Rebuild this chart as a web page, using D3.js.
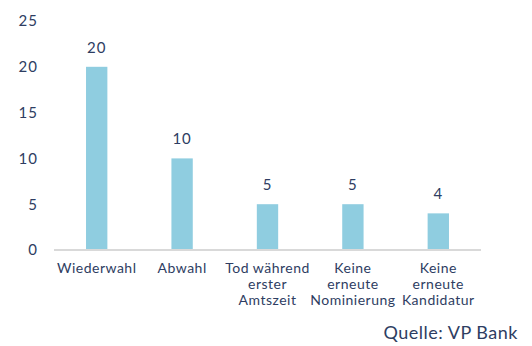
<!DOCTYPE html>
<html>
<head>
<meta charset="utf-8">
<script src="https://cdn.jsdelivr.net/npm/d3@7"></script>
<style>
  html, body { margin: 0; padding: 0; background: #fff; }
  svg text { font-family: Lato, "Open Sans", sans-serif; fill: #2e3d62; font-weight: 400; }
</style>
</head>
<body>
<svg id="chart" width="532" height="346"></svg>
<script>
// Categories (multi-line labels) and counts
const categories = [
  ["Wiederwahl"],
  ["Abwahl"],
  ["Tod während", "erster", "Amtszeit"],
  ["Keine", "erneute", "Nominierung"],
  ["Keine", "erneute", "Kandidatur"]
];
const values = [20, 10, 5, 5, 4];
const yTicks = [0, 5, 10, 15, 20, 25];
const source = "Quelle: VP Bank";

const svg = d3.select("#chart");
const margin = { left: 54, right: 51, top: 21, bottom: 96 };
const W = 532, H = 346;

const x = d3.scaleBand()
  .domain(d3.range(categories.length))
  .range([margin.left, W - margin.right])
  .paddingInner(0.75)
  .paddingOuter(0.375);

const y = d3.scaleLinear()
  .domain([0, 25])
  .range([H - margin.bottom, margin.top]);

// Y axis labels only (no line, no ticks)
const yAxis = svg.append("g")
  .attr("transform", `translate(${margin.left},0)`)
  .call(d3.axisLeft(y).tickValues(yTicks).tickSize(0).tickPadding(16));
yAxis.select(".domain").remove();
yAxis.selectAll("text")
  .style("font-size", "15px")
  .style("letter-spacing", "1px")
  .attr("fill", "#2e3d62");

// Bars
svg.append("g").selectAll("rect")
  .data(values)
  .join("rect")
  .attr("x", (d, i) => x(i))
  .attr("y", d => y(d))
  .attr("width", x.bandwidth())
  .attr("height", d => y(0) - y(d))
  .attr("fill", "#8fcde0");

// Baseline
svg.append("line")
  .attr("x1", margin.left).attr("x2", W - margin.right)
  .attr("y1", y(0)).attr("y2", y(0))
  .attr("stroke", "#d9d9d9").attr("stroke-width", 2);

// Value labels
svg.append("g").selectAll("text")
  .data(values)
  .join("text")
  .attr("x", (d, i) => x(i) + x.bandwidth() / 2)
  .attr("y", d => y(d) - 14)
  .attr("text-anchor", "middle")
  .style("font-size", "15px")
  .style("letter-spacing", "1px")
  .text(d => d);

// Category labels
const catG = svg.append("g").selectAll("text")
  .data(categories)
  .join("text")
  .attr("text-anchor", "middle")
  .style("font-size", "14px")
  .style("letter-spacing", "0.5px")
  .attr("transform", (d, i) => `translate(${x(i) + x.bandwidth() / 2},${y(0) + 23})`);
catG.selectAll("tspan")
  .data(d => d)
  .join("tspan")
  .attr("x", 0)
  .attr("dy", (d, j) => j === 0 ? 0 : 16)
  .text(d => d);

// Source note
svg.append("text")
  .attr("x", 518).attr("y", 339)
  .attr("text-anchor", "end")
  .style("font-size", "18px")
  .style("letter-spacing", "0.5px")
  .text(source);
</script>
</body>
</html>
